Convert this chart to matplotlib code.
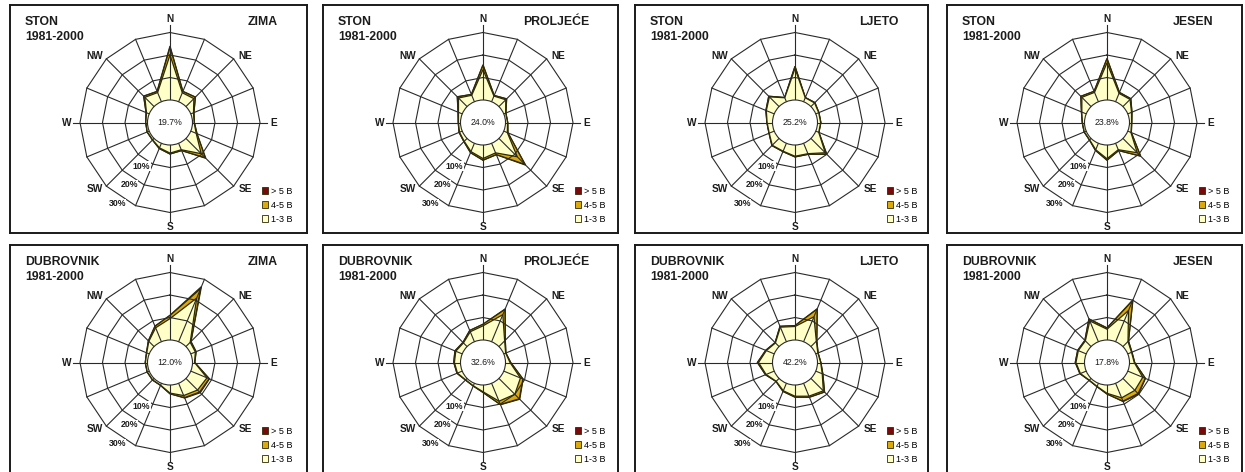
import numpy as np
import matplotlib.pyplot as plt
from matplotlib.patches import Circle, Patch

plt.rcParams['font.family'] = ['Liberation Sans', 'DejaVu Sans']

# wind directions, clockwise from north
directions = ['N', 'NNE', 'NE', 'ENE', 'E', 'ESE', 'SE', 'SSE',
              'S', 'SSW', 'SW', 'WSW', 'W', 'WNW', 'NW', 'NNW']
compass_labels = ['N', 'NE', 'E', 'SE', 'S', 'SW', 'W', 'NW']
stations = ['STON', 'DUBROVNIK']
seasons = ['ZIMA', 'PROLJEĆE', 'LJETO', 'JESEN']
period = '1981-2000'
class_labels = ['> 5 B', '4-5 B', '1-3 B']
ring_values = [10, 20, 30]
ring_labels = ['10%', '20%', '30%']

# calm (%)
calm_ston = [19.7, 24.0, 25.2, 23.8]
calm_dubrovnik = [12.0, 32.6, 42.2, 17.8]

# frequency (%) per direction for wind force classes 1-3 B, 4-5 B and > 5 B
ston_zima_13 = [20.0, 4.3, 5.0, 1.3, 0.7, 2.6, 9.6, 3.1, 3.6, 2.2, 0.9, 0.9, 0.7, 1.3, 5.8, 4.4]
ston_zima_45 = [3.4, 0.6, 0.9, 0.2, 0.1, 0.4, 2.5, 0.4, 0.4, 0.3, 0.1, 0.1, 0.1, 0.2, 0.7, 0.5]
ston_zima_5 = [0.6, 0.1, 0.1, 0.0, 0.0, 0.0, 0.4, 0.0, 0.0, 0.0, 0.0, 0.0, 0.0, 0.0, 0.1, 0.1]

ston_proljece_13 = [13.5, 2.7, 4.3, 0.9, 0.9, 1.7, 11.5, 4.6, 6.0, 4.0, 1.8, 1.3, 0.9, 1.8, 5.4, 3.1]
ston_proljece_45 = [1.9, 0.3, 0.5, 0.1, 0.1, 0.3, 4.8, 0.8, 0.7, 0.5, 0.2, 0.2, 0.1, 0.2, 0.7, 0.4]
ston_proljece_5 = [0.3, 0.0, 0.1, 0.0, 0.0, 0.0, 0.5, 0.1, 0.1, 0.0, 0.0, 0.0, 0.0, 0.0, 0.1, 0.0]

ston_ljeto_13 = [14.0, 1.9, 2.3, 1.4, 1.4, 1.4, 9.0, 5.0, 5.0, 3.8, 4.3, 2.4, 2.4, 3.8, 6.1, 1.9]
ston_ljeto_45 = [0.9, 0.1, 0.2, 0.1, 0.1, 0.1, 0.8, 0.3, 0.3, 0.2, 0.2, 0.1, 0.1, 0.2, 0.4, 0.1]
ston_ljeto_5 = [0.1, 0.0, 0.0, 0.0, 0.0, 0.0, 0.2, 0.0, 0.0, 0.0, 0.0, 0.0, 0.0, 0.0, 0.0, 0.0]

ston_jesen_13 = [16.5, 4.0, 4.5, 1.8, 0.9, 1.5, 9.0, 3.1, 6.1, 3.1, 0.9, 0.9, 0.9, 2.1, 5.8, 4.5]
ston_jesen_45 = [1.8, 0.4, 0.4, 0.2, 0.1, 0.2, 2.0, 0.4, 0.6, 0.3, 0.1, 0.1, 0.1, 0.2, 0.6, 0.5]
ston_jesen_5 = [0.2, 0.1, 0.1, 0.0, 0.0, 0.0, 0.2, 0.0, 0.1, 0.0, 0.0, 0.0, 0.0, 0.0, 0.1, 0.0]

dubrovnik_zima_13 = [9.5, 21.0, 2.7, 2.2, 0.9, 7.8, 7.3, 5.9, 3.6, 0.9, 0.9, 0.9, 0.9, 1.2, 3.3, 6.7]
dubrovnik_zima_45 = [1.4, 4.5, 0.4, 0.3, 0.1, 1.0, 1.3, 1.0, 0.3, 0.1, 0.1, 0.1, 0.1, 0.1, 0.3, 0.7]
dubrovnik_zima_5 = [0.1, 1.0, 0.1, 0.1, 0.0, 0.2, 0.4, 0.2, 0.0, 0.0, 0.0, 0.0, 0.0, 0.0, 0.0, 0.1]

dubrovnik_proljece_13 = [6.3, 13.0, 3.6, 0.9, 2.0, 8.0, 10.0, 8.6, 3.0, 1.2, 0.9, 2.3, 2.7, 3.1, 2.3, 4.8]
dubrovnik_proljece_45 = [0.7, 2.5, 0.4, 0.1, 0.3, 1.2, 2.8, 1.6, 0.3, 0.1, 0.1, 0.2, 0.3, 0.4, 0.3, 0.6]
dubrovnik_proljece_5 = [0.0, 0.3, 0.0, 0.0, 0.0, 0.1, 0.3, 0.1, 0.0, 0.0, 0.0, 0.0, 0.0, 0.0, 0.0, 0.0]

dubrovnik_ljeto_13 = [6.0, 12.0, 3.4, 1.0, 1.4, 3.1, 7.8, 6.2, 5.0, 3.6, 1.8, 3.9, 6.2, 3.8, 2.3, 7.0]
dubrovnik_ljeto_45 = [0.4, 3.6, 0.3, 0.1, 0.1, 0.3, 0.7, 0.5, 0.4, 0.3, 0.1, 0.3, 0.5, 0.3, 0.2, 0.4]
dubrovnik_ljeto_5 = [0.0, 0.3, 0.0, 0.0, 0.0, 0.0, 0.1, 0.0, 0.0, 0.0, 0.0, 0.0, 0.0, 0.0, 0.0, 0.0]

dubrovnik_jesen_13 = [4.8, 15.0, 3.2, 1.8, 2.1, 7.2, 7.5, 7.0, 3.7, 1.5, 1.1, 2.8, 3.8, 3.8, 3.6, 10.0]
dubrovnik_jesen_45 = [0.5, 4.8, 0.3, 0.2, 0.2, 1.2, 2.0, 1.6, 0.3, 0.1, 0.1, 0.2, 0.3, 0.3, 0.3, 0.9]
dubrovnik_jesen_5 = [0.1, 0.4, 0.0, 0.0, 0.0, 0.1, 0.4, 0.2, 0.0, 0.0, 0.0, 0.0, 0.0, 0.0, 0.0, 0.1]

roses = [
    [(ston_zima_13, ston_zima_45, ston_zima_5),
     (ston_proljece_13, ston_proljece_45, ston_proljece_5),
     (ston_ljeto_13, ston_ljeto_45, ston_ljeto_5),
     (ston_jesen_13, ston_jesen_45, ston_jesen_5)],
    [(dubrovnik_zima_13, dubrovnik_zima_45, dubrovnik_zima_5),
     (dubrovnik_proljece_13, dubrovnik_proljece_45, dubrovnik_proljece_5),
     (dubrovnik_ljeto_13, dubrovnik_ljeto_45, dubrovnik_ljeto_5),
     (dubrovnik_jesen_13, dubrovnik_jesen_45, dubrovnik_jesen_5)],
]
calms = [calm_ston, calm_dubrovnik]

C_RED = '#7a0a0a'
C_GOLD = '#dcaa08'
C_LIGHT = '#ffffc8'
C_EDGE = '#2e2a08'
C_GRID = '#2a2a2a'
C_TEXT = '#1c1c1c'

W, H = 1245, 472
# panel frames in pixels: (left, right) and (top, bottom); the lower row runs off the bottom edge
col_px = [(10, 307), (323, 618), (635, 928), (947, 1242)]
row_px = [(5, 233), (245, 476)]
CX, CY = 160, 117.5        # rose centre inside a frame
R0 = 22.5                  # radius of the calm circle
K = 2.25                   # pixels per percent

theta = np.deg2rad(np.arange(16) * 22.5)


def to_xy(values):
    r = R0 + K * np.asarray(values, dtype=float)
    r = np.append(r, r[0])
    t = np.append(theta, theta[0])
    return r * np.sin(t), r * np.cos(t)


def draw_rose(ax, station, season, calm, b13, b45, b5):
    b13 = np.asarray(b13)
    b45 = np.asarray(b45)
    b5 = np.asarray(b5)

    # stacked classes, largest first
    for vals, col in [(b13 + b45 + b5, C_RED), (b13 + b45, C_GOLD), (b13, C_LIGHT)]:
        x, y = to_xy(vals)
        ax.fill(x, y, facecolor=col, edgecolor=C_EDGE, lw=0.9, zorder=2)

    # rings
    for v in ring_values:
        x, y = to_xy(np.full(16, v))
        ax.plot(x, y, color=C_GRID, lw=0.8, zorder=3)
    # spokes
    r_out = R0 + K * ring_values[-1]
    for i, t in enumerate(theta):
        if i % 4 == 0:
            continue
        ax.plot([R0 * np.sin(t), r_out * np.sin(t)], [R0 * np.cos(t), r_out * np.cos(t)],
                color=C_GRID, lw=0.8, zorder=3)
    ax.plot([0, 0], [-98, 98], color=C_GRID, lw=0.8, zorder=3)
    ax.plot([-97, 97], [0, 0], color=C_GRID, lw=0.8, zorder=3)

    ax.add_patch(Circle((0, 0), R0, facecolor='white', edgecolor=C_GRID, lw=0.8, zorder=4))
    ax.text(0, 0, f'{calm:.1f}%', ha='center', va='center', fontsize=6.3,
            color=C_TEXT, zorder=5)

    # compass labels
    for i, lab in enumerate(compass_labels):
        a = np.deg2rad(i * 45)
        if i % 2 == 0:
            px, py = 103.5 * np.sin(a), 104 * np.cos(a)
        else:
            px, py = 107 * np.sin(a), 94 * np.cos(a)
        ax.text(px, py, lab, ha='center', va='center', fontsize=7.3,
                fontweight='bold', color=C_TEXT, zorder=5)

    # ring labels along the SSW side
    a = np.deg2rad(213)
    for v, lab in zip(ring_values, ring_labels):
        rr = R0 + K * v + 7
        ax.text(rr * np.sin(a), rr * np.cos(a), lab, ha='center', va='center',
                fontsize=6.3, fontweight='bold', color=C_TEXT, zorder=5,
                bbox=dict(facecolor='white', edgecolor='none', pad=0.2))

    x0, x1 = ax.get_xlim()
    y0, y1 = ax.get_ylim()
    ax.text(x0 + 15, y1 - 17, station, ha='left', va='center', fontsize=8.8,
            fontweight='bold', color=C_TEXT)
    ax.text(x0 + 15, y1 - 32, period, ha='left', va='center', fontsize=8.8,
            fontweight='bold', color=C_TEXT)
    ax.text(x1 - 29, y1 - 17, season, ha='right', va='center', fontsize=8.8,
            fontweight='bold', color=C_TEXT)

    handles = [Patch(facecolor=C_RED, edgecolor=C_EDGE, lw=0.6),
               Patch(facecolor=C_GOLD, edgecolor=C_EDGE, lw=0.6),
               Patch(facecolor=C_LIGHT, edgecolor=C_EDGE, lw=0.6)]
    # legend placed in data units so both rows sit alike
    ax.legend(handles, class_labels, loc='lower left', bbox_to_anchor=(92, -101),
              bbox_transform=ax.transData,
              frameon=False, fontsize=6.5, handlelength=0.65, handleheight=0.75,
              handletextpad=0.35, labelspacing=0.55, borderpad=0, borderaxespad=0)


fig = plt.figure(figsize=(W / 100, H / 100), dpi=100)
fig.patch.set_facecolor('white')

for ri, (top, bottom) in enumerate(row_px):
    for ci, (left, right) in enumerate(col_px):
        ax = fig.add_axes([left / W, 1 - bottom / H, (right - left) / W, (bottom - top) / H])
        cx, cy = left + CX, top + CY
        ax.set_xlim(left - cx, right - cx)
        ax.set_ylim(cy - bottom, cy - top)
        ax.set_xticks([])
        ax.set_yticks([])
        for s in ax.spines.values():
            s.set_linewidth(1.4)
            s.set_color('#1a1a1a')
        b13, b45, b5 = roses[ri][ci]
        draw_rose(ax, stations[ri], seasons[ci], calms[ri][ci], b13, b45, b5)

fig.savefig('out.png', dpi=100, facecolor='white')
